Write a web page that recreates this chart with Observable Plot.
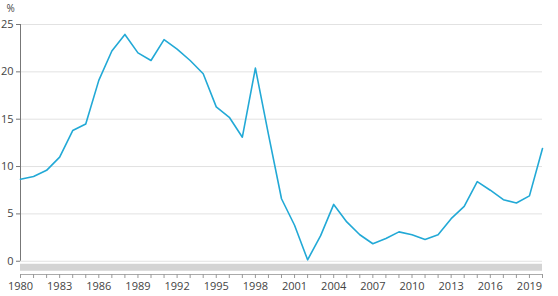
<!DOCTYPE html>
<html>
<head>
<meta charset="utf-8">
<script src="https://cdn.jsdelivr.net/npm/d3@7"></script>
<script src="https://cdn.jsdelivr.net/npm/@observablehq/plot@0.6"></script>
<style>
  html, body { margin: 0; padding: 0; background: #fff; }
  #chart svg { display: block; font-family: "Open Sans", sans-serif; }
</style>
</head>
<body>
<div id="chart"></div>
<script>
const years = d3.range(1980, 2021);
const values = [
  8.65, 8.95, 9.6, 11.0, 13.8, 14.5, 19.1, 22.2, 23.95, 22.0,
  21.2, 23.4, 22.4, 21.2, 19.8, 16.3, 15.2, 13.1, 20.4, 13.4,
  6.6, 3.8, 0.15, 2.7, 6.0, 4.15, 2.8, 1.85, 2.4, 3.1,
  2.8, 2.3, 2.8, 4.5, 5.8, 8.4, 7.5, 6.5, 6.15, 6.9,
  11.9
];
const yTicks = [0, 5, 10, 15, 20, 25];
const xLabelStep = 3;
const unitLabel = "%";

const data = years.map((year, i) => ({year, value: values[i]}));
const x0 = years[0], x1 = years[years.length - 1];

const chart = Plot.plot({
  width: 558,
  height: 296,
  marginTop: 24,
  marginLeft: 20,
  marginRight: 16,
  marginBottom: 22,
  style: {fontSize: "11px", color: "#444", fontFamily: "Open Sans, sans-serif"},
  x: {domain: [x0, x1], axis: null},
  y: {domain: [-1.4, 25], axis: null},
  marks: [
    Plot.ruleY(yTicks, {stroke: "#e2e2e2", strokeWidth: 1}),
    Plot.rect([0], {x1: () => x0, x2: () => x1, y1: () => -0.32, y2: () => -1.06, fill: "#d4d4d4"}),
    Plot.ruleX([x0], {y1: 0, y2: 25, stroke: "#777"}),
    Plot.axisY(yTicks, {anchor: "left", tickSize: 4, tickPadding: 3, stroke: "#777", label: null, fill: "#444"}),
    Plot.ruleY([-1.4], {stroke: "#aaa"}),
    Plot.axisX(years, {anchor: "bottom", tickSize: 4, tickPadding: 4, stroke: "#999", label: null, fill: "#444",
      tickFormat: d => ((d - x0) % xLabelStep === 0 ? String(d) : "")}),
    Plot.line(data, {x: "year", y: "value", stroke: "#22a9d6", strokeWidth: 1.6}),
    Plot.text([unitLabel], {frameAnchor: "top-left", dx: -14, dy: -20, fill: "#444", textAnchor: "start", fontSize: 10})
  ]
});
document.getElementById("chart").append(chart);
</script>
</body>
</html>
